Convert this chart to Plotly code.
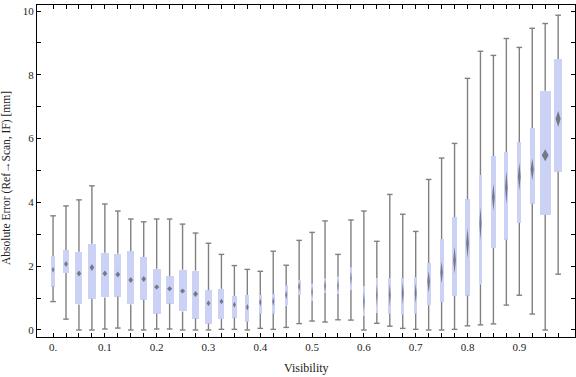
import plotly.graph_objects as go

# ---- data ----
visibility = [0.000, 0.025, 0.050, 0.075, 0.100, 0.125, 0.150, 0.175, 0.200, 0.225,
              0.250, 0.275, 0.300, 0.325, 0.350, 0.375, 0.400, 0.425, 0.450, 0.475,
              0.500, 0.525, 0.550, 0.575, 0.600, 0.625, 0.650, 0.675, 0.700, 0.725,
              0.750, 0.775, 0.800, 0.825, 0.850, 0.875, 0.900, 0.925, 0.950, 0.975]
whisker_lo = [0.89, 0.34, 0.00, 0.00, 0.03, 0.06, 0.00, 0.00, 0.03, 0.03,
              0.00, 0.00, 0.00, 0.02, 0.02, 0.00, 0.05, 0.02, 0.08, 0.20,
              0.28, 0.25, 0.32, 0.31, 0.00, 0.21, 0.12, 0.05, 0.02, 0.00,
              0.00, 0.02, 0.13, 0.16, 0.19, 0.78, 1.09, 0.50, 0.00, 1.75]
q1 = [1.36, 1.79, 0.80, 0.98, 1.02, 1.05, 0.80, 0.95, 0.51, 0.83,
      0.58, 0.36, 0.20, 0.35, 0.39, 0.26, 0.51, 0.51, 0.77, 1.10,
      0.91, 1.16, 1.13, 1.25, 0.44, 0.53, 0.51, 0.48, 0.51, 0.78,
      0.88, 1.07, 1.08, 1.43, 2.57, 2.83, 3.36, 3.96, 3.61, 4.96]
mean = [1.89, 2.07, 1.77, 1.96, 1.77, 1.74, 1.57, 1.60, 1.35, 1.29,
        1.22, 1.13, 0.84, 0.89, 0.79, 0.71, 0.87, 0.89, 1.10, 1.36,
        1.19, 1.38, 1.39, 1.62, 0.89, 1.10, 1.10, 1.15, 1.15, 1.51,
        1.80, 2.19, 2.72, 3.34, 4.16, 4.47, 4.81, 5.04, 5.48, 6.62]
q3 = [2.32, 2.51, 2.45, 2.70, 2.42, 2.39, 2.48, 2.29, 1.92, 1.69,
      1.89, 1.86, 1.25, 1.29, 1.07, 1.10, 1.10, 1.13, 1.40, 1.57,
      1.46, 1.61, 1.67, 1.97, 1.36, 1.63, 1.63, 1.63, 1.66, 2.10,
      2.85, 3.54, 4.10, 4.86, 5.45, 5.58, 5.89, 6.33, 7.50, 8.50]
whisker_hi = [3.58, 3.89, 4.08, 4.52, 3.95, 3.73, 3.48, 3.39, 3.48, 3.48,
              3.32, 3.04, 2.72, 2.37, 2.02, 1.90, 1.84, 2.47, 2.03, 2.81,
              3.06, 3.42, 2.37, 3.45, 3.73, 2.78, 4.25, 3.63, 3.09, 4.72,
              5.39, 5.85, 7.89, 8.74, 8.61, 9.14, 8.86, 9.46, 9.61, 9.87]
# half height of the mean confidence diamond (mm)
ci_half = [0.094, 0.094, 0.094, 0.110, 0.094, 0.094, 0.094, 0.094, 0.078, 0.078,
           0.078, 0.094, 0.086, 0.086, 0.094, 0.102, 0.125, 0.136, 0.136, 0.157,
           0.183, 0.199, 0.204, 0.219, 0.313, 0.345, 0.360, 0.345, 0.313, 0.345,
           0.345, 0.423, 0.470, 0.517, 0.423, 0.517, 0.439, 0.345, 0.188, 0.250]
# relative sample weight (drives box width)
weight = [4.0, 6.0, 7.0, 7.3, 7.3, 7.3, 7.3, 7.3, 8.0, 8.0,
          8.0, 7.7, 6.3, 6.0, 4.7, 4.3, 3.3, 3.0, 3.0, 3.0,
          2.3, 2.7, 2.3, 2.3, 2.3, 2.3, 2.7, 3.0, 3.0, 4.0,
          4.0, 4.3, 4.3, 3.3, 4.3, 4.0, 4.3, 5.0, 10.7, 8.0]
x_labels = {0.0: "0.", 0.1: "0.1", 0.2: "0.2", 0.3: "0.3", 0.4: "0.4",
            0.5: "0.5", 0.6: "0.6", 0.7: "0.7", 0.8: "0.8", 0.9: "0.9"}
y_ticks = [0, 1, 2, 3, 4, 5, 6, 7, 8, 9, 10]
x_title = "Visibility"
y_title = "Absolute Error (Ref→Scan, IF) [mm]"

# ---- styling ----
BOX_COLOR = "#cbd2f5"
WHISKER_COLOR = "#808080"
DIAMOND_COLOR = "rgba(105,105,115,0.85)"
FONT = "Liberation Serif, Times New Roman, serif"
TEXT_COLOR = "#222222"
width_scale = 1 / 518.0  # weight -> x units

box_w = [w * width_scale for w in weight]

fig = go.Figure()

# boxes
fig.add_trace(go.Bar(
    x=visibility, y=[b - a for a, b in zip(q1, q3)], base=q1, width=box_w,
    marker=dict(color=BOX_COLOR, line=dict(width=0)), hoverinfo="skip",
    showlegend=False))

# whiskers
wx, wy = [], []
for xv, lo, a, b, hi in zip(visibility, whisker_lo, q1, q3, whisker_hi):
    wx += [xv, xv, None, xv, xv, None]
    wy += [b, hi, None, lo, a, None]
fig.add_trace(go.Scatter(x=wx, y=wy, mode="lines",
                         line=dict(color=WHISKER_COLOR, width=1.4),
                         hoverinfo="skip", showlegend=False))
# caps
fig.add_trace(go.Scatter(x=visibility + visibility, y=whisker_hi + whisker_lo,
                         mode="markers",
                         marker=dict(symbol="line-ew", size=4,
                                     line=dict(color=WHISKER_COLOR, width=1.4)),
                         hoverinfo="skip", showlegend=False))

# mean diamonds
dx, dy = [], []
for xv, m, h, bw in zip(visibility, mean, ci_half, box_w):
    hw = 0.32 * bw
    dx += [xv, xv + hw, xv, xv - hw, xv, None]
    dy += [m + h, m, m - h, m, m + h, None]
fig.add_trace(go.Scatter(x=dx, y=dy, mode="lines", fill="toself",
                         fillcolor=DIAMOND_COLOR, line=dict(width=0, color=DIAMOND_COLOR),
                         hoverinfo="skip", showlegend=False))

fig.update_layout(
    width=576, height=377,
    margin=dict(l=37, r=1, t=5, b=40, autoexpand=False),
    paper_bgcolor="white", plot_bgcolor="white",
    font=dict(family=FONT, size=11, color=TEXT_COLOR),
    bargap=0,
    annotations=[
        dict(text=x_title, xref="paper", yref="paper", x=0.5, y=-0.0934,
             xanchor="center", yanchor="middle", showarrow=False,
             font=dict(size=12, family=FONT, color=TEXT_COLOR)),
        dict(text=y_title, xref="paper", yref="paper", x=0, xshift=-30,
             y=0.479, xanchor="center", yanchor="middle", textangle=-90,
             showarrow=False, font=dict(size=11.5, family=FONT, color=TEXT_COLOR)),
    ],
)
fig.update_xaxes(
    range=[-0.031, 1.0075], showgrid=False, zeroline=False,
    showline=True, linecolor="black", linewidth=1, mirror="allticks",
    ticks="inside", ticklen=4, tickcolor="black", tickwidth=1,
    tickmode="array", tickvals=visibility,
    ticktext=[x_labels.get(round(v, 3), "") for v in visibility],
    automargin=False,
)
fig.update_yaxes(
    range=[-0.22, 10.19], showgrid=False, zeroline=False,
    showline=True, linecolor="black", linewidth=1, mirror="allticks",
    ticks="inside", ticklen=4, tickcolor="black", tickwidth=1,
    tickmode="array", tickvals=y_ticks,
    ticktext=[str(v) if v % 2 == 0 else "" for v in y_ticks],
    automargin=False,
)

fig.write_html("out.html", config={"displayModeBar": False},
               post_script="document.body.style.margin='0';")
